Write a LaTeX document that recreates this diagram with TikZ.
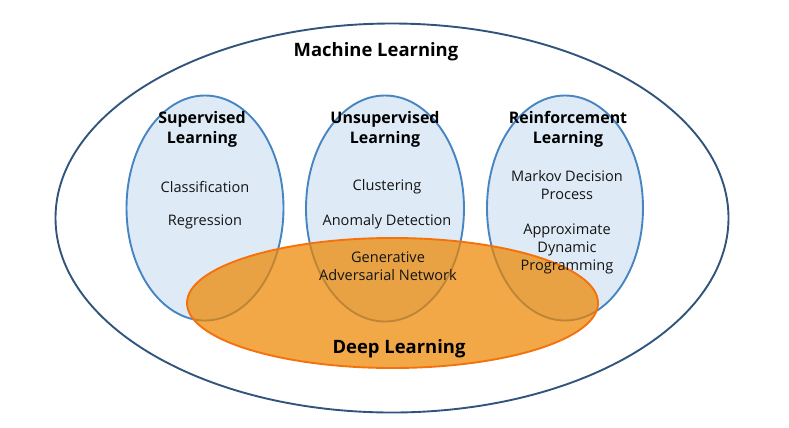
\documentclass[tikz,border=0pt]{standalone}
\usepackage{fontspec}
\setmainfont{Open Sans}
\usetikzlibrary{shapes.geometric}
\definecolor{outerline}{RGB}{48,84,124}
\definecolor{setline}{RGB}{70,132,194}
\definecolor{setfill}{RGB}{222,235,247}
\definecolor{deepfill}{RGB}{237,134,0}
\definecolor{deepline}{RGB}{245,113,12}
\tikzset{
  field/.style={ellipse, draw=setline, line width=1.9pt, fill=setfill, inner sep=0pt},
  deepset/.style={ellipse, draw=deepline, line width=1.9pt, fill=deepfill, fill opacity=0.72, draw opacity=1, inner sep=0pt},
  title/.style={font=\bfseries\fontsize{16}{20}\selectfont, align=center, inner sep=0pt},
  bigtitle/.style={font=\bfseries\fontsize{18.5}{22}\selectfont, align=center, inner sep=0pt},
  item/.style={font=\fontsize{14.6}{17.5}\selectfont, align=center, inner sep=0pt, text=black!92}
}
\begin{document}
\begin{tikzpicture}[x=1bp, y=-1bp]
\useasboundingbox (0,0) rectangle (789,427);
% outer set
\node[ellipse, draw=outerline, line width=1.9pt, minimum width=673bp, minimum height=389bp, inner sep=0pt] (ml) at (392,218) {};
% the three learning paradigms
\node[field, minimum width=157bp, minimum height=225bp] (sup) at (205,208) {};
\node[field, minimum width=158bp, minimum height=226bp] (uns) at (385,208.5) {};
\node[field, minimum width=156bp, minimum height=225bp] (rl) at (565,208) {};
% deep learning overlaps all three
\node[deepset, minimum width=411bp, minimum height=130bp] (dl) at (392.5,303) {};
% labels
\node[bigtitle] (mltitle) at (376,52) {Machine Learning};
\node[title] (suptitle) at (202,129) {Supervised\\Learning};
\node[title] (unstitle) at (385,129) {Unsupervised\\Learning};
\node[title] (rltitle) at (568,129) {Reinforcement\\Learning};
\node[item] (cls) at (205,186.5) {Classification};
\node[item] (reg) at (205,222) {Regression};
\node[item] (clu) at (387,187) {Clustering};
\node[item] (ano) at (387,222) {Anomaly Detection};
\node[item, font=\fontsize{14.6}{18}\selectfont] (gan) at (388,266) {Generative\\Adversarial Network};
\node[item] (mdp) at (567,185) {Markov Decision\\Process};
\node[item, font=\fontsize{14.6}{18}\selectfont] (adp) at (567,249) {Approximate\\Dynamic\\Programming};
\node[bigtitle] (dltitle) at (399,349) {Deep Learning};
\end{tikzpicture}
\end{document}
